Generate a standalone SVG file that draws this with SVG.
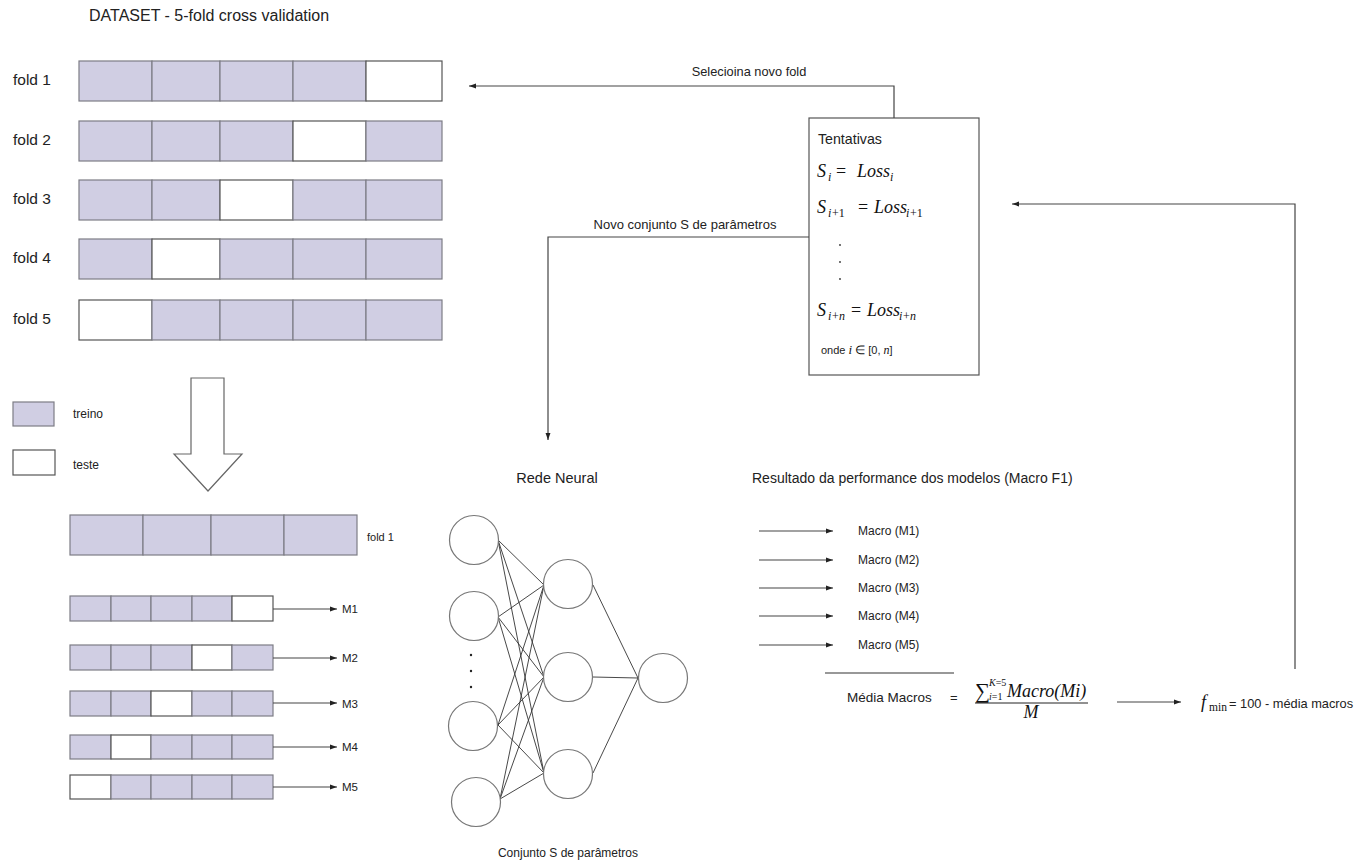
<svg xmlns="http://www.w3.org/2000/svg" width="1354" height="866" viewBox="0 0 1354 866">
  <defs>
    <style>
      .sans { font-family: "Liberation Sans", Arial, sans-serif; fill: #222; }
      .math { font-family: "Liberation Serif", "Times New Roman", serif; fill: #111; }
      .it { font-style: italic; }
      .tr { fill: #d0cee3; stroke: #7d7d85; stroke-width: 1.2; }
      .te { fill: #ffffff; stroke: #555; stroke-width: 1.2; }
      .node { fill: #fff; stroke: #777; stroke-width: 1.2; }
      .edge { stroke: #333; stroke-width: 0.9; fill: none; }
      .conn { stroke: #444; stroke-width: 1.2; fill: none; }
    </style>
    <marker id="ah" viewBox="0 0 10 10" refX="10" refY="5" markerWidth="7" markerHeight="7" orient="auto" markerUnits="userSpaceOnUse">
      <path d="M0,1.5 L10,5 L0,8.5 z" fill="#222"/>
    </marker>
  </defs>
  <rect width="1354" height="866" fill="#fff"/>

  <!-- title -->
  <text class="sans" x="89" y="21" font-size="16">DATASET - 5-fold cross validation</text>

  <!-- 5-fold dataset rows: five cells each, white cell = test split -->
  <g id="fold1">
    <text class="sans" x="13" y="85" font-size="15.5">fold 1</text>
    <rect class="tr" x="79" y="61" width="73" height="40"/><rect class="tr" x="152" y="61" width="68" height="40"/><rect class="tr" x="220" y="61" width="73" height="40"/><rect class="tr" x="293" y="61" width="73" height="40"/><rect class="te" x="366" y="61" width="76" height="40"/>
  </g>
  <g id="fold2">
    <text class="sans" x="13" y="145" font-size="15.5">fold 2</text>
    <rect class="tr" x="79" y="121" width="73" height="40"/><rect class="tr" x="152" y="121" width="68" height="40"/><rect class="tr" x="220" y="121" width="73" height="40"/><rect class="te" x="293" y="121" width="73" height="40"/><rect class="tr" x="366" y="121" width="76" height="40"/>
  </g>
  <g id="fold3">
    <text class="sans" x="13" y="204" font-size="15.5">fold 3</text>
    <rect class="tr" x="79" y="180" width="73" height="40"/><rect class="tr" x="152" y="180" width="68" height="40"/><rect class="te" x="220" y="180" width="73" height="40"/><rect class="tr" x="293" y="180" width="73" height="40"/><rect class="tr" x="366" y="180" width="76" height="40"/>
  </g>
  <g id="fold4">
    <text class="sans" x="13" y="263" font-size="15.5">fold 4</text>
    <rect class="tr" x="79" y="239" width="73" height="40"/><rect class="te" x="152" y="239" width="68" height="40"/><rect class="tr" x="220" y="239" width="73" height="40"/><rect class="tr" x="293" y="239" width="73" height="40"/><rect class="tr" x="366" y="239" width="76" height="40"/>
  </g>
  <g id="fold5">
    <text class="sans" x="13" y="324" font-size="15.5">fold 5</text>
    <rect class="te" x="79" y="300" width="73" height="40"/><rect class="tr" x="152" y="300" width="68" height="40"/><rect class="tr" x="220" y="300" width="73" height="40"/><rect class="tr" x="293" y="300" width="73" height="40"/><rect class="tr" x="366" y="300" width="76" height="40"/>
  </g>

  <!-- legend -->
  <g id="legend">
    <rect class="tr" x="13" y="402" width="41" height="24"/>
    <text class="sans" x="73" y="418" font-size="12">treino</text>
    <rect class="te" x="13" y="450" width="42" height="25"/>
    <text class="sans" x="73" y="469" font-size="12">teste</text>
  </g>

  <!-- block down arrow -->
  <g id="down-arrow">
    <path d="M191,378 L224,378 L224,454 L242,454 L208,491 L174,454 L191,454 Z" fill="#fff" stroke="#666" stroke-width="1.2"/>
  </g>

  <!-- selected fold split into four cells -->
  <g id="fold1-split">
    <rect class="tr" x="70" y="515" width="73" height="40"/><rect class="tr" x="143" y="515" width="68" height="40"/><rect class="tr" x="211" y="515" width="73" height="40"/><rect class="tr" x="284" y="515" width="73" height="40"/>
    <text class="sans" x="367" y="541" font-size="11">fold 1</text>
  </g>

  <!-- inner 5-fold rows producing models M1..M5 -->
  <g id="m1">
    <rect class="tr" x="70" y="596" width="41" height="25"/><rect class="tr" x="111" y="596" width="40" height="25"/><rect class="tr" x="151" y="596" width="41" height="25"/><rect class="tr" x="192" y="596" width="40" height="25"/><rect class="te" x="232" y="596" width="41" height="25"/>
    <text class="sans" x="342" y="613" font-size="11.5">M1</text>
  </g>
  <g id="m2">
    <rect class="tr" x="70" y="645" width="41" height="25"/><rect class="tr" x="111" y="645" width="40" height="25"/><rect class="tr" x="151" y="645" width="41" height="25"/><rect class="te" x="192" y="645" width="40" height="25"/><rect class="tr" x="232" y="645" width="41" height="25"/>
    <text class="sans" x="342" y="662" font-size="11.5">M2</text>
  </g>
  <g id="m3">
    <rect class="tr" x="70" y="691" width="41" height="25"/><rect class="tr" x="111" y="691" width="40" height="25"/><rect class="te" x="151" y="691" width="41" height="25"/><rect class="tr" x="192" y="691" width="40" height="25"/><rect class="tr" x="232" y="691" width="41" height="25"/>
    <text class="sans" x="342" y="708" font-size="11.5">M3</text>
  </g>
  <g id="m4">
    <rect class="tr" x="70" y="735" width="41" height="24"/><rect class="te" x="111" y="735" width="40" height="24"/><rect class="tr" x="151" y="735" width="41" height="24"/><rect class="tr" x="192" y="735" width="40" height="24"/><rect class="tr" x="232" y="735" width="41" height="24"/>
    <text class="sans" x="342" y="751" font-size="11.5">M4</text>
  </g>
  <g id="m5">
    <rect class="te" x="70" y="775" width="41" height="24"/><rect class="tr" x="111" y="775" width="40" height="24"/><rect class="tr" x="151" y="775" width="41" height="24"/><rect class="tr" x="192" y="775" width="40" height="24"/><rect class="tr" x="232" y="775" width="41" height="24"/>
    <text class="sans" x="342" y="791" font-size="11.5">M5</text>
  </g>

  <!-- neural network -->
  <g id="neural-net">
    <text class="sans" x="557" y="483" font-size="14.5" text-anchor="middle">Rede Neural</text>
    <g class="edge">
      <path d="M498,540 L544,585 M498,540 L544,677 M498,540 L544,773"/>
      <path d="M498,617 L544,585 M498,617 L544,677 M498,617 L544,773"/>
      <path d="M498,725 L544,585 M498,725 L544,677 M498,725 L544,773"/>
      <path d="M500,799 L544,585 M500,799 L544,677 M500,799 L544,773"/>
      <path d="M593,585 L638,678 M593,677 L638,678 M593,773 L638,678"/>
    </g>
    <circle class="node" cx="474" cy="540" r="24.5"/>
    <circle class="node" cx="474" cy="616" r="24.5"/>
    <circle class="node" cx="473" cy="726" r="24.5"/>
    <circle class="node" cx="476" cy="802" r="24.5"/>
    <circle fill="#222" cx="471" cy="655" r="1.2"/>
    <circle fill="#222" cx="471" cy="671" r="1.2"/>
    <circle fill="#222" cx="471" cy="687" r="1.2"/>
    <circle class="node" cx="568" cy="584" r="24.5"/>
    <circle class="node" cx="568" cy="677" r="24.5"/>
    <circle class="node" cx="568" cy="774" r="24.5"/>
    <circle class="node" cx="663" cy="678" r="24.5"/>
    <text class="sans" x="568" y="857" font-size="12" text-anchor="middle">Conjunto S de parâmetros</text>
  </g>

  <!-- trials box -->
  <g id="tentativas">
    <rect x="809" y="118" width="170" height="257" fill="#fff" stroke="#555" stroke-width="1.2"/>
    <text class="sans" x="818" y="144" font-size="14.2">Tentativas</text>

    <!-- S_i = Loss_i -->
    <text class="math" font-size="18">
      <tspan class="it" x="817" y="177">S</tspan>
      <tspan class="it" x="828" y="181" font-size="12">i</tspan>
      <tspan x="836" y="177">=</tspan>
      <tspan class="it" x="857" y="177">Loss</tspan>
      <tspan class="it" x="890" y="181" font-size="12">i</tspan>
    </text>

    <!-- S_{i+1} = Loss_{i+1} -->
    <text class="math" font-size="18">
      <tspan class="it" x="817" y="213">S</tspan>
      <tspan class="it" x="828" y="217" font-size="12">i</tspan>
      <tspan x="832" y="217" font-size="12">+1</tspan>
      <tspan x="858" y="213">=</tspan>
      <tspan class="it" x="874" y="213">Loss</tspan>
      <tspan class="it" x="906" y="217" font-size="12">i</tspan>
      <tspan x="910" y="217" font-size="12">+1</tspan>
    </text>

    <circle fill="#333" cx="840" cy="245" r="0.9"/>
    <circle fill="#333" cx="840" cy="262" r="0.9"/>
    <circle fill="#333" cx="840" cy="279" r="0.9"/>

    <!-- S_{i+n} = Loss_{i+n} -->
    <text class="math" font-size="18">
      <tspan class="it" x="817" y="316">S</tspan>
      <tspan class="it" x="828" y="320" font-size="12">i</tspan>
      <tspan x="832" y="320" font-size="12">+</tspan>
      <tspan class="it" x="839" y="320" font-size="12">n</tspan>
      <tspan x="851" y="316">=</tspan>
      <tspan class="it" x="867" y="316">Loss</tspan>
      <tspan class="it" x="899" y="320" font-size="12">i</tspan>
      <tspan x="903" y="320" font-size="12">+</tspan>
      <tspan class="it" x="910" y="320" font-size="12">n</tspan>
    </text>

    <text class="sans" x="821" y="354" font-size="11">onde <tspan class="math it" font-size="13">i</tspan> <tspan class="math" font-size="12">∈</tspan> [0, <tspan class="math it" font-size="12">n</tspan>]</text>
  </g>

  <!-- model results -->
  <g id="resultados">
    <text class="sans" x="752" y="483" font-size="14">Resultado da performance dos modelos (Macro F1)</text>
    <text class="sans" x="858" y="535" font-size="12">Macro (M1)</text>
    <text class="sans" x="858" y="564" font-size="12">Macro (M2)</text>
    <text class="sans" x="858" y="592" font-size="12">Macro (M3)</text>
    <text class="sans" x="858" y="620" font-size="12">Macro (M4)</text>
    <text class="sans" x="858" y="649" font-size="12">Macro (M5)</text>
    <line x1="825" y1="673" x2="954" y2="673" stroke="#333" stroke-width="1.2"/>
  </g>

  <!-- average of macros formula -->
  <g id="media-macros">
    <text class="sans" x="847" y="702" font-size="13.5">Média Macros</text>
    <text class="sans" x="950" y="702" font-size="13">=</text>
    <text class="math" x="975" y="698" font-size="21">∑</text>
    <text class="math" x="989" y="686" font-size="10"><tspan class="it">K</tspan>=5</text>
    <text class="math" x="989" y="700" font-size="10"><tspan class="it">i</tspan>=1</text>
    <text class="math it" x="1007" y="697" font-size="18">Macro(Mi)</text>
    <line x1="975" y1="703" x2="1088" y2="703" stroke="#222" stroke-width="1"/>
    <text class="math it" x="1031" y="718" font-size="18" text-anchor="middle">M</text>
  </g>

  <!-- objective -->
  <g id="fmin">
    <text class="math it" x="1201" y="708" font-size="18">f</text>
    <text class="math" x="1209" y="711" font-size="11.5">min</text>
    <text class="sans" x="1229" y="708" font-size="12.8">= 100 - média macros</text>
  </g>

  <!-- connectors -->
  <g id="connectors">
    <path class="conn" d="M894,118 L894,86 L469,86" marker-end="url(#ah)"/>
    <text class="sans" x="749" y="76" font-size="12.8" text-anchor="middle">Selecioina novo fold</text>
    <path class="conn" d="M809,237 L548,237 L548,440" marker-end="url(#ah)"/>
    <text class="sans" x="685" y="229" font-size="13" text-anchor="middle">Novo conjunto S de parâmetros</text>
    <path class="conn" d="M1295,669 L1295,204 L1012,204" marker-end="url(#ah)"/>
    <path class="conn" d="M273,609 L337,609" marker-end="url(#ah)"/>
    <path class="conn" d="M273,658 L337,658" marker-end="url(#ah)"/>
    <path class="conn" d="M273,703 L337,703" marker-end="url(#ah)"/>
    <path class="conn" d="M273,747 L337,747" marker-end="url(#ah)"/>
    <path class="conn" d="M273,787 L337,787" marker-end="url(#ah)"/>
    <path class="conn" d="M759,531 L833,531" marker-end="url(#ah)"/>
    <path class="conn" d="M759,560 L833,560" marker-end="url(#ah)"/>
    <path class="conn" d="M759,588 L833,588" marker-end="url(#ah)"/>
    <path class="conn" d="M759,616 L833,616" marker-end="url(#ah)"/>
    <path class="conn" d="M759,645 L833,645" marker-end="url(#ah)"/>
    <path class="conn" d="M1117,702 L1181,702" marker-end="url(#ah)"/>
  </g>
</svg>
